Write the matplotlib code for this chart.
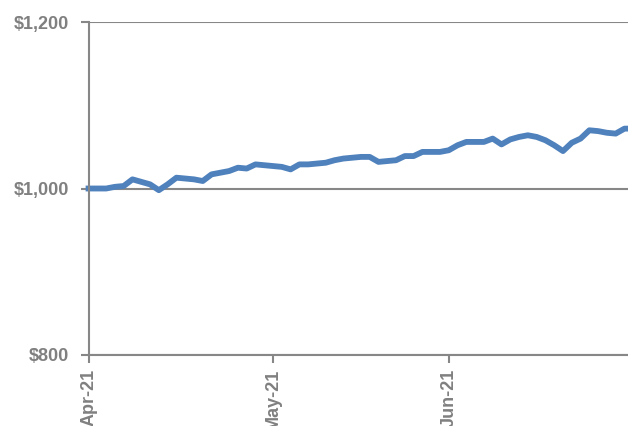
import matplotlib.pyplot as plt
import numpy as np

plt.rcParams['font.family'] = ['Liberation Sans', 'DejaVu Sans']

# growth of $1,000, one value per trading day (Apr 1 - Jun 30, 2021)
values = [1000, 1000, 1000, 1002, 1003, 1011, 1008, 1005, 998, 1005,
          1013, 1012, 1011, 1009, 1017, 1019, 1021, 1025, 1024, 1029,
          1028, 1027, 1026, 1023, 1029, 1029, 1030, 1031, 1034, 1036,
          1037, 1038, 1038, 1032, 1033, 1034, 1039, 1039, 1044, 1044,
          1044, 1046, 1052, 1056, 1056, 1056, 1060, 1053, 1059, 1062,
          1064, 1062, 1058, 1052, 1045, 1055, 1060, 1070, 1069, 1067,
          1066, 1072, 1072]
month_pos = [0, 21, 41]
month_labels = ['Apr-21', 'May-21', 'Jun-21']
y_ticks = [800, 1000, 1200]
y_labels = ['$800', '$1,000', '$1,200']

grey = '#878787'
text_grey = '#808080'

fig = plt.figure(figsize=(6.28, 4.26), dpi=100)
ax = fig.add_axes([0.141, 0.167, 0.859, 0.781])

ax.plot(range(len(values)), values, color='#4F81BD', lw=4.2,
        solid_joinstyle='round', clip_on=False)

ax.set_ylim(800, 1200)
ax.set_xlim(0, 61.4)
ax.set_yticks(y_ticks)
ax.set_yticklabels(y_labels)
ax.set_xticks(month_pos)
ax.set_xticklabels(month_labels, rotation=90)

for t in ax.get_xticklabels() + ax.get_yticklabels():
    t.set_fontweight('bold')
    t.set_color(text_grey)
    t.set_fontsize(13)

ax.grid(axis='y', color=grey, lw=1.5)
ax.set_axisbelow(True)
for s in ['top', 'right']:
    ax.spines[s].set_visible(False)
for s in ['left', 'bottom']:
    ax.spines[s].set_color(grey)
    ax.spines[s].set_linewidth(1.5)
ax.tick_params(axis='both', colors=grey, width=1.5, length=6)
ax.tick_params(axis='y', pad=8, labelcolor=text_grey)
ax.tick_params(axis='x', pad=4, labelcolor=text_grey)

fig.savefig('out.png', dpi=100)
